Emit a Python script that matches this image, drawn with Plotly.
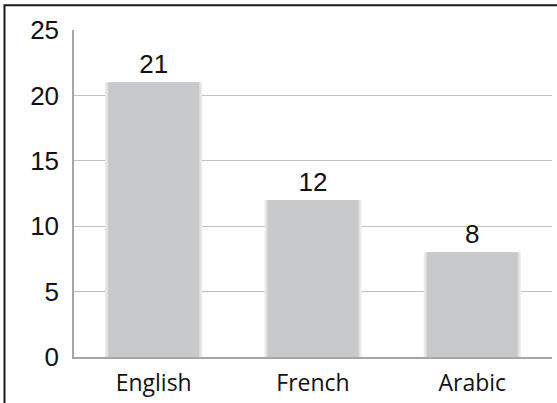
import plotly.graph_objects as go

categories = ["English", "French", "Arabic"]
values = [21, 12, 8]
y_ticks = [0, 5, 10, 15, 20, 25]

fig = go.Figure()
# soft shadow behind the bars
fig.add_trace(go.Bar(x=categories, y=values, width=0.61,
                     marker=dict(color="#ececec", line=dict(width=0)),
                     hoverinfo="skip", showlegend=False))
fig.add_trace(go.Bar(x=categories, y=values, width=0.59,
                     marker=dict(color="#dedede", line=dict(width=0)),
                     hoverinfo="skip", showlegend=False))
fig.add_trace(go.Bar(x=categories, y=values, width=0.57,
                     marker=dict(color="#c8c9cb", line=dict(width=0)),
                     text=[str(v) for v in values], textposition="outside",
                     textfont=dict(family="Liberation Sans, Arial", size=26, color="#111111"),
                     cliponaxis=False, showlegend=False))

W, H = 557, 403
ml, mr, mt, mb = 74, 5, 30, 43
pw, ph = W - ml - mr, H - mt - mb

fig.update_layout(
    width=W, height=H,
    margin=dict(l=ml, r=mr, t=mt, b=mb),
    barmode="overlay",
    plot_bgcolor="white", paper_bgcolor="white",
    xaxis=dict(showgrid=False, showline=True, linecolor="#a6a6a6", linewidth=1.5,
               tickfont=dict(family="Open Sans", size=23, color="#111111"),
               ticks="", ticklabelstandoff=5, fixedrange=True),
    yaxis=dict(range=[0, 25], tickvals=y_ticks, showgrid=True, gridcolor="#c0c0c0",
               gridwidth=1, showline=True, linecolor="#a6a6a6", linewidth=1.5,
               zeroline=False, ticks="", ticklabelstandoff=8,
               tickfont=dict(family="Liberation Sans, Arial", size=26, color="#111111")),
    shapes=[dict(type="rect", xref="paper", yref="paper",
                 x0=(4.5 - ml) / pw, x1=(W + 10 - ml) / pw,
                 y0=-(H + 10 - (H - mb)) / ph, y1=1 + (mt - 5) / ph,
                 line=dict(color="#1a1a1a", width=2), layer="above")],
)

fig.write_html("out.html", config={"displayModeBar": False},
               post_script="document.body.style.margin='0';document.body.style.overflow='hidden';")
